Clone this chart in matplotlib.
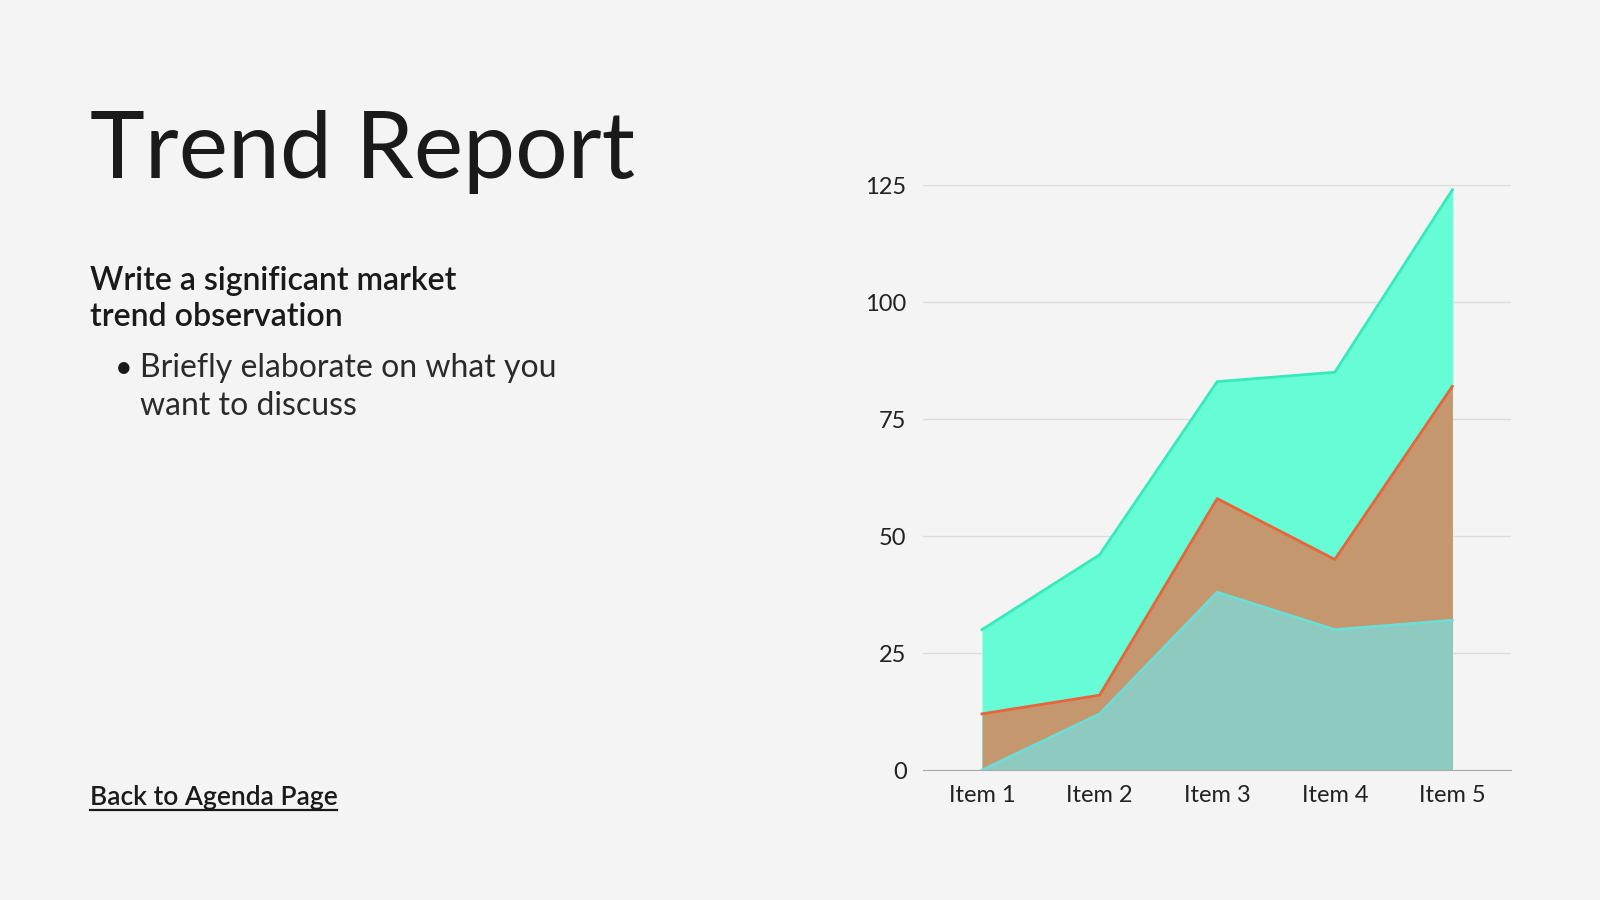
import matplotlib
matplotlib.use("Agg")
import matplotlib.pyplot as plt
import numpy as np

# chart values (cumulative heights of each band)
items = ["Item 1", "Item 2", "Item 3", "Item 4", "Item 5"]
top_band = [30, 46, 83, 85, 124]
mid_band = [12, 16, 58, 45, 82]
low_band = [0, 12, 38, 30, 32]
y_ticks = [0, 25, 50, 75, 100, 125]

bg = "#F4F4F4"
ink = "#1a1a1a"
plt.rcParams["font.family"] = ["Lato", "DejaVu Sans"]

fig = plt.figure(figsize=(16, 9), dpi=100, facecolor=bg)

# left side text
fig.text(0.056, 0.802, "Trend Report", fontsize=67, color=ink, va="baseline")
fig.text(0.056, 0.678, "Write a significant market", fontsize=23, fontweight="semibold",
         color=ink, va="baseline")
fig.text(0.056, 0.638, "trend observation", fontsize=23, fontweight="semibold",
         color=ink, va="baseline")
fig.text(0.0715, 0.581, "\u2022", fontsize=22, color=ink, va="baseline")
fig.text(0.0875, 0.581, "Briefly elaborate on what you", fontsize=23,
         color="#2a2a2a", va="baseline")
fig.text(0.0875, 0.539, "want to discuss", fontsize=23,
         color="#2a2a2a", va="baseline")
link = fig.text(0.056, 0.105, "Back to Agenda Page", fontsize=19, fontweight="semibold",
                color=ink, va="baseline")
# underline for the link
fig.canvas.draw()
bb = link.get_window_extent().transformed(fig.transFigure.inverted())
fig.add_artist(plt.Line2D([bb.x0, bb.x1], [0.0995, 0.0995], color=ink, lw=1.6,
                          transform=fig.transFigure))

# chart
ax = fig.add_axes([0.577, 0.1444, 0.3675, 0.65])
ax.set_facecolor(bg)
x = np.arange(len(items))

ax.fill_between(x, 0, top_band, color="#66FCD6", lw=0, zorder=2)
ax.plot(x, top_band, color="#36EABB", lw=2, zorder=3)
ax.fill_between(x, 0, mid_band, color="#C4976F", lw=0, zorder=4)
ax.plot(x, mid_band, color="#E8643A", lw=2, zorder=5)
ax.fill_between(x, 0, low_band, color="#8ECAC0", lw=0, zorder=6)
ax.plot(x, low_band, color="#6EDDD5", lw=2, zorder=7)

ax.set_xlim(-0.5, len(items) - 0.5)
ax.set_ylim(0, 125)
ax.set_yticks(y_ticks)
ax.set_xticks(x)
ax.set_xticklabels(items)
ax.grid(axis="y", color="#DCDCDC", lw=1, zorder=0)
ax.set_axisbelow(True)
for s in ["top", "right", "left"]:
    ax.spines[s].set_visible(False)
ax.spines["bottom"].set_color("#AAAAAA")
ax.spines["bottom"].set_zorder(10)
ax.tick_params(axis="both", length=0, labelsize=17, colors="#222222")
ax.tick_params(axis="y", pad=12)
ax.tick_params(axis="x", pad=11)

fig.savefig("out.png", dpi=100, facecolor=bg)
